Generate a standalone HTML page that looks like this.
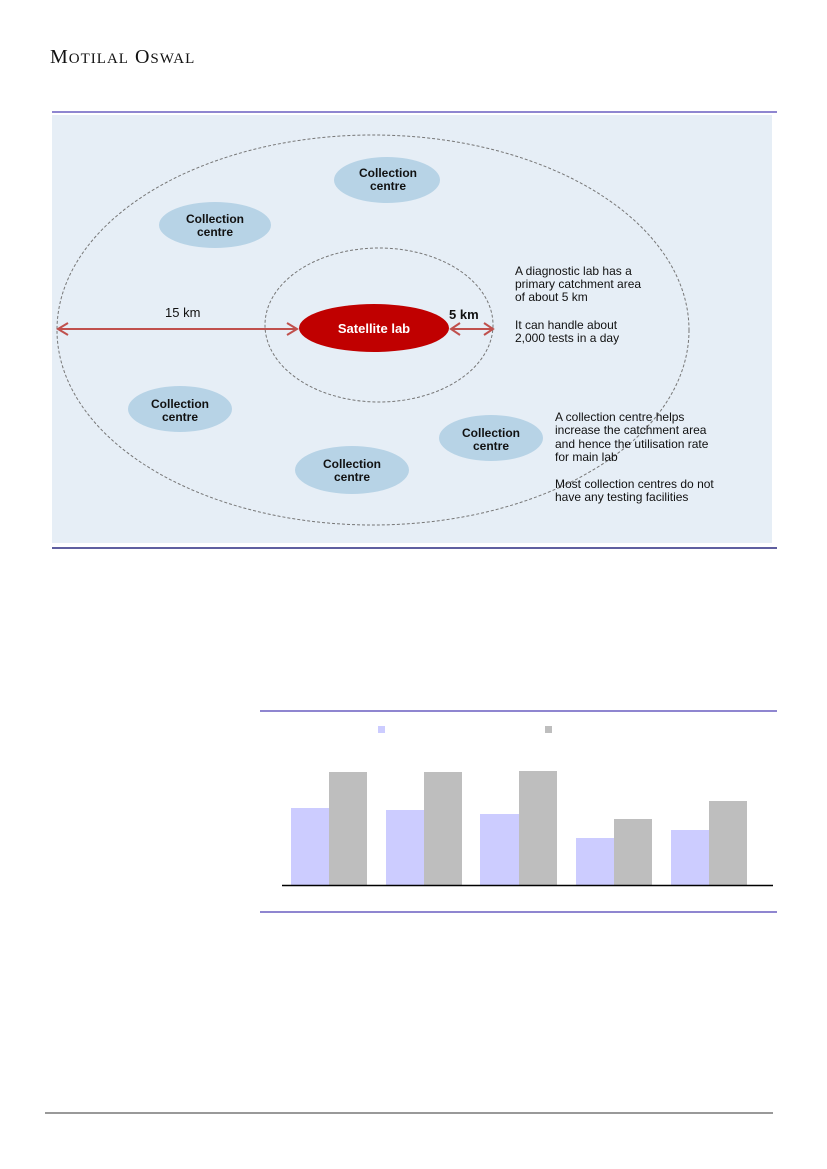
<!DOCTYPE html>
<html><head><style>
body{margin:0;width:827px;height:1169px;background:#fff;position:relative;overflow:hidden;font-family:"Liberation Sans",Arial,sans-serif}
</style></head><body>
<div style="position:absolute;left:50px;top:46px;font-family:'Liberation Serif',serif;font-size:20px;color:#111;letter-spacing:1px">M<span style="font-size:15px">OTILAL</span> O<span style="font-size:15px">SWAL</span></div>
<svg width="827" height="1169" style="position:absolute;left:0;top:0" font-family="Liberation Sans, Arial, sans-serif">
<line x1="52" y1="112" x2="777" y2="112" stroke="#6a5fc0" stroke-width="1.5"/>
<rect x="52" y="115" width="720" height="428" fill="#e6eef6"/>
<line x1="52" y1="548" x2="777" y2="548" stroke="#2a2a80" stroke-width="1.5"/>
<ellipse cx="373" cy="330" rx="316" ry="195" fill="none" stroke="#777" stroke-dasharray="3,2"/>
<ellipse cx="379" cy="325" rx="114" ry="77" fill="none" stroke="#777" stroke-dasharray="3,2"/>
<g fill="#b7d3e6">
<ellipse cx="387" cy="180" rx="53" ry="23"/>
<ellipse cx="215" cy="225" rx="56" ry="23"/>
<ellipse cx="180" cy="409" rx="52" ry="23"/>
<ellipse cx="491" cy="438" rx="52" ry="23"/>
<ellipse cx="352" cy="470" rx="57" ry="24"/>
</g>
<g font-size="12" font-weight="bold" fill="#111" text-anchor="middle">
<text x="388" y="177">Collection</text><text x="388" y="190">centre</text>
<text x="215" y="223">Collection</text><text x="215" y="236">centre</text>
<text x="180" y="408">Collection</text><text x="180" y="421">centre</text>
<text x="491" y="437">Collection</text><text x="491" y="450">centre</text>
<text x="352" y="468">Collection</text><text x="352" y="481">centre</text>
</g>
<ellipse cx="374" cy="328" rx="75" ry="24" fill="#c00000"/>
<text x="374" y="333" font-size="13" font-weight="bold" fill="#fff" text-anchor="middle">Satellite lab</text>
<g stroke="#c0504d" stroke-width="2" fill="none">
<line x1="58" y1="329" x2="297" y2="329"/>
<polyline points="68,323 58,329 68,335"/><polyline points="287,323 297,329 287,335"/>
<line x1="451" y1="329" x2="493" y2="329"/>
<polyline points="460,323 451,329 460,335"/><polyline points="484,323 493,329 484,335"/>
</g>
<text x="165" y="317" font-size="13" fill="#111">15 km</text>
<text x="449" y="319" font-size="13" font-weight="bold" fill="#111">5 km</text>
<g font-size="12" fill="#111">
<text x="515" y="275">A diagnostic lab has a</text>
<text x="515" y="288">primary catchment area</text>
<text x="515" y="301">of about 5 km</text>
<text x="515" y="329">It can handle about</text>
<text x="515" y="342">2,000 tests in a day</text>
<text x="555" y="421">A collection centre helps</text>
<text x="555" y="434">increase the catchment area</text>
<text x="555" y="448">and hence the utilisation rate</text>
<text x="555" y="461">for main lab</text>
<text x="555" y="488">Most collection centres do not</text>
<text x="555" y="501">have any testing facilities</text>
</g>
<line x1="260" y1="711" x2="777" y2="711" stroke="#6a5fc0" stroke-width="1.5"/>
<line x1="260" y1="912" x2="777" y2="912" stroke="#6a5fc0" stroke-width="1.5"/>
<rect x="378" y="726" width="7" height="7" fill="#ccccff"/>
<rect x="545" y="726" width="7" height="7" fill="#bebebe"/>
<g fill="#ccccff">
<rect x="291" y="808" width="38" height="77"/><rect x="386" y="810" width="38" height="75"/>
<rect x="480" y="814" width="39" height="71"/><rect x="576" y="838" width="38" height="47"/>
<rect x="671" y="830" width="38" height="55"/>
</g>
<g fill="#bebebe">
<rect x="329" y="772" width="38" height="113"/><rect x="424" y="772" width="38" height="113"/>
<rect x="519" y="771" width="38" height="114"/><rect x="614" y="819" width="38" height="66"/>
<rect x="709" y="801" width="38" height="84"/>
</g>
<line x1="282" y1="885.5" x2="773" y2="885.5" stroke="#000" stroke-width="1.5"/>
<line x1="45" y1="1113" x2="773" y2="1113" stroke="#333" stroke-width="1"/>
</svg>
</body></html>
